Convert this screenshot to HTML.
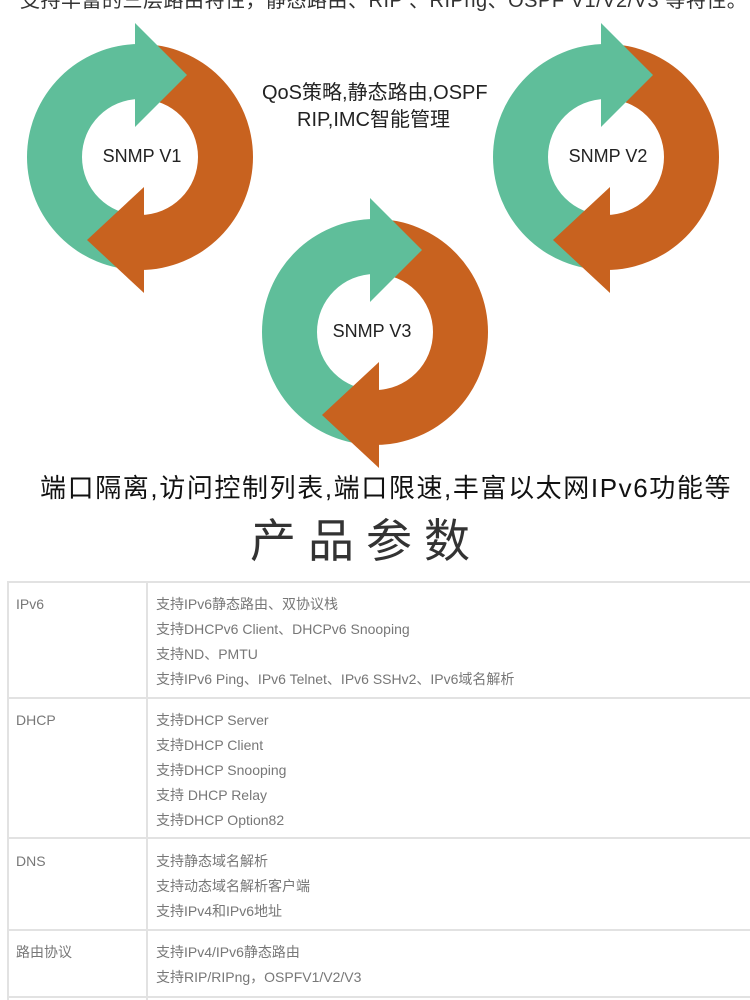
<!DOCTYPE html>
<html><head><meta charset="utf-8"><style>
body{margin:0;width:750px;height:1000px;overflow:hidden;background:#fff;position:relative;font-family:"Liberation Sans","Noto Sans CJK SC",sans-serif}
.t{position:absolute;white-space:nowrap;line-height:1}
.g{fill:#5fbe9a}.o{fill:#c8621f}
.cell{position:absolute;font-size:14px;color:#777;line-height:25px}
.h{position:absolute;background:#e2e2e2;height:2px}
.v{position:absolute;background:#e2e2e2;width:2px}
</style></head><body>
<div class="t" style="left:20px;top:-9px;font-size:20px;color:#333;letter-spacing:0.5px">支持丰富的三层路由特性，静态路由、RIP 、RIPng、OSPF V1/V2/V3 等特性。</div>
<svg width="750" height="480" style="position:absolute;left:0;top:0">
<defs>
<g id="c">
<path class="g" d="M0,113 A113,113 0 0 1 0,-113 L0,-58 A58,58 0 0 0 0,58 Z"/>
<path class="o" d="M0,-113 A113,113 0 0 1 0,113 L0,58 A58,58 0 0 0 0,-58 Z"/>
<path class="g" d="M-5,-134 L47,-82 L-5,-30 Z"/>
<path class="o" d="M4,30 L-53,83 L4,136 Z"/>
</g>
</defs>
<use href="#c" x="140" y="157"/>
<use href="#c" x="606" y="157"/>
<use href="#c" x="375" y="332"/>
<text x="142" y="162" font-size="18" text-anchor="middle" fill="#222" font-family="Liberation Sans,sans-serif">SNMP V1</text>
<text x="608" y="162" font-size="18" text-anchor="middle" fill="#222" font-family="Liberation Sans,sans-serif">SNMP V2</text>
<text x="372" y="337" font-size="18" text-anchor="middle" fill="#222" font-family="Liberation Sans,sans-serif">SNMP V3</text>
</svg>
<div class="t" style="left:262px;top:83px;font-size:20px;color:#222">QoS策略,静态路由,OSPF</div>
<div class="t" style="left:297px;top:110px;font-size:20px;color:#222">RIP,IMC智能管理</div>
<div class="t" style="left:40px;top:475px;font-size:26px;color:#111;letter-spacing:1.6px">端口隔离,访问控制列表,端口限速,丰富以太网IPv6功能等</div>
<div class="t" style="left:250px;top:518px;font-size:46px;color:#333;letter-spacing:12px">产品参数</div>

<div class="h" style="left:7px;top:581px;width:743px"></div>
<div class="h" style="left:7px;top:697px;width:743px"></div>
<div class="h" style="left:7px;top:837px;width:743px"></div>
<div class="h" style="left:7px;top:929px;width:743px"></div>
<div class="h" style="left:7px;top:996px;width:743px"></div>
<div class="v" style="left:7px;top:581px;height:419px"></div>
<div class="v" style="left:146px;top:581px;height:419px"></div>

<div class="cell" style="left:16px;top:592px">IPv6</div>
<div class="cell" style="left:156px;top:592px">支持IPv6静态路由、双协议栈<br>支持DHCPv6 Client、DHCPv6 Snooping<br>支持ND、PMTU<br>支持IPv6 Ping、IPv6 Telnet、IPv6 SSHv2、IPv6域名解析</div>
<div class="cell" style="left:16px;top:708px">DHCP</div>
<div class="cell" style="left:156px;top:708px">支持DHCP Server<br>支持DHCP Client<br>支持DHCP Snooping<br>支持 DHCP Relay<br>支持DHCP Option82</div>
<div class="cell" style="left:16px;top:849px">DNS</div>
<div class="cell" style="left:156px;top:849px">支持静态域名解析<br>支持动态域名解析客户端<br>支持IPv4和IPv6地址</div>
<div class="cell" style="left:16px;top:940px">路由协议</div>
<div class="cell" style="left:156px;top:940px">支持IPv4/IPv6静态路由<br>支持RIP/RIPng，OSPFV1/V2/V3</div>
</body></html>
